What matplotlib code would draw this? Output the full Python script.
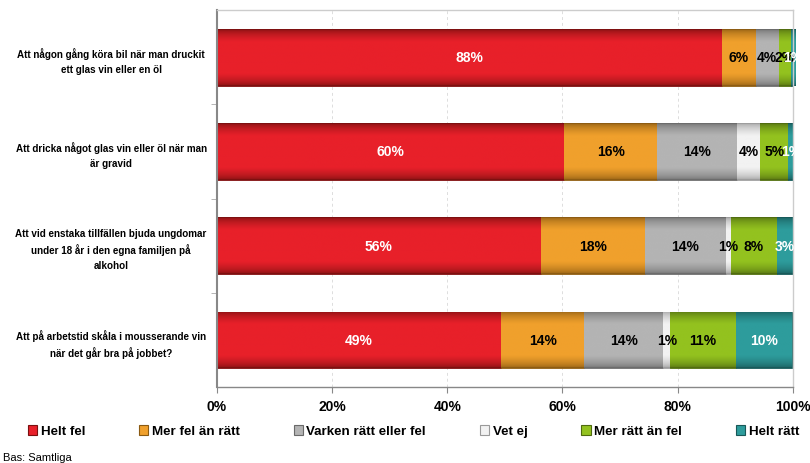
import numpy as np
import matplotlib
matplotlib.use("Agg")
import matplotlib.pyplot as plt
from matplotlib.colors import to_rgb
from matplotlib.patches import Patch
from matplotlib.ticker import FixedLocator, PercentFormatter

plt.rcParams['font.family'] = ['Liberation Sans', 'DejaVu Sans']

categories = [
    "Att någon gång köra bil när man druckit\nett glas vin eller en öl",
    "Att dricka något glas vin eller öl när man\när gravid",
    "Att vid enstaka tillfällen bjuda ungdomar\nunder 18 år i den egna familjen på\nalkohol",
    "Att på arbetstid skåla i mousserande vin\nnär det går bra på jobbet?",
]
series = ["Helt fel", "Mer fel än rätt", "Varken rätt eller fel", "Vet ej",
          "Mer rätt än fel", "Helt rätt"]
helt_fel = [87.6, 60.3, 56.3, 49.4]
mer_fel = [5.9, 16.1, 18.0, 14.4]
varken = [4.0, 13.9, 14.0, 13.7]
vet_ej = [0.0, 4.0, 0.9, 1.2]
mer_ratt = [2.1, 4.9, 8.0, 11.4]
helt_ratt = [0.7, 1.0, 2.9, 9.7]
x_ticks = [0, 20, 40, 60, 80, 100]

values = [helt_fel, mer_fel, varken, vet_ej, mer_ratt, helt_ratt]
colors = ["#e8202a", "#f0a02c", "#b4b4b4", "#f2f2f2", "#93c21f", "#2e9c9c"]
edge_colors = ["#7a1010", "#8a5a12", "#6a6a6a", "#9a9a9a", "#4f6a10", "#185858"]
text_colors = ["white", "black", "black", "black", "black", "white"]

fig = plt.figure(figsize=(8.1, 4.64), dpi=100)
ax = fig.add_axes([0.2675, 0.1638, 0.979 - 0.2675, 0.976 - 0.1638])

y = np.arange(len(categories))
bar_h = 0.6
left = np.zeros(len(categories))

# vertical profile for a shaded look
prof_t = np.linspace(0, 1, 64)
profile = np.clip(np.minimum(prof_t, 1 - prof_t) / 0.22, 0, 1)
profile = 0.55 + 0.45 * np.sqrt(profile)

for vals, c, ec, tc in zip(values, colors, edge_colors, text_colors):
    bars = ax.barh(y, vals, left=left, height=bar_h, color=c,
                   edgecolor=ec, linewidth=0.6, zorder=2)
    base = np.array(to_rgb(c))
    dark = np.array(to_rgb(ec))
    for b, v, l in zip(bars, vals, left):
        if v <= 0:
            continue
        img = np.zeros((len(profile), 2, 3))
        for i, p in enumerate(profile):
            col = dark + (base - dark) * (p - 0.55) / 0.45
            img[i, :, :] = col
        x0, y0 = b.get_x(), b.get_y()
        im = ax.imshow(img, extent=(x0, x0 + b.get_width(), y0 + b.get_height(), y0),
                       aspect='auto', interpolation='bilinear', zorder=2.5)
        im.set_clip_path(b)
        lab = round(v)
        ax.text(l + v / 2, b.get_y() + b.get_height() / 2, f"{lab}%",
                ha='center', va='center', color=tc, fontsize=10,
                fontweight='bold', zorder=4)
    left = left + np.array(vals)

ax.set_xlim(0, 100)
ax.set_ylim(len(categories) - 0.5, -0.5)

ax.xaxis.set_major_locator(FixedLocator(x_ticks))
ax.xaxis.set_major_formatter(PercentFormatter(decimals=0))
for lab in ax.get_xticklabels():
    lab.set_fontweight('bold')
ax.tick_params(axis='x', labelsize=10, length=4, color='#888888', pad=5)
ax.grid(axis='x', color='#dddddd', linestyle=(0, (3, 3)), linewidth=0.7, zorder=0)

ax.set_yticks(y)
ax.set_yticklabels(categories, fontsize=7.1, fontweight='bold', ha='center',
                   multialignment='center', linespacing=1.55)
ax.tick_params(axis='y', which='major', length=0, pad=76)
ax.set_yticks(np.arange(0.5, len(categories) - 0.5, 1), minor=True)
ax.tick_params(axis='y', which='minor', length=4, color='#aaaaaa')

for side, col, lw in [('left', '#888888', 1.5), ('bottom', '#888888', 1.0),
                      ('top', '#cccccc', 1.0), ('right', '#cccccc', 1.0)]:
    ax.spines[side].set_color(col)
    ax.spines[side].set_linewidth(lw)

handles = [Patch(facecolor=c, edgecolor=ec, linewidth=0.8)
           for c, ec in zip(colors, edge_colors)]
fig.legend(handles, series, loc='center', bbox_to_anchor=(413.5 / 810, 1 - 432 / 464),
           ncol=6, frameon=False, handlelength=0.7, handleheight=0.8,
           handletextpad=0.25, columnspacing=4.05,
           prop={'weight': 'bold', 'size': 9.6})

fig.text(0.004, 1 - 458 / 464, "Bas: Samtliga", fontsize=8, va='center', ha='left')

fig.savefig("out.png", dpi=100)
